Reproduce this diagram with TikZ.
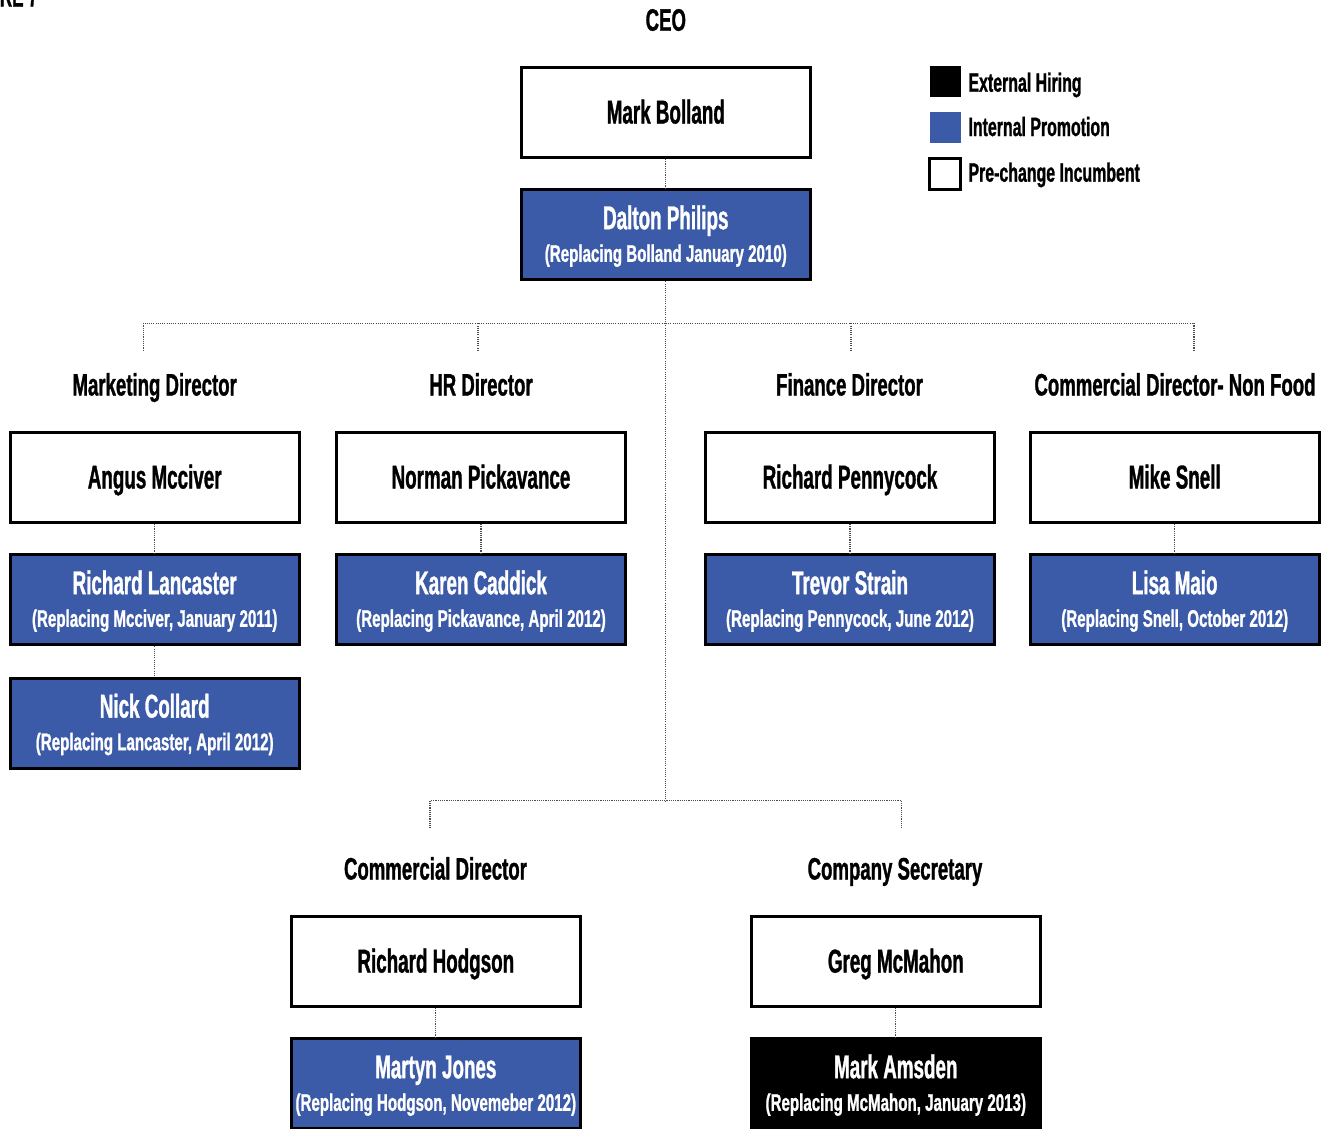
\documentclass[tikz,border=0pt]{standalone}
\usepackage{fontspec}
\newfontfamily\cf{Liberation Sans}[FakeStretch=0.57,FakeBold=1]
\newfontfamily\cft{Liberation Sans}[FakeStretch=0.60,FakeBold=1]
\newfontfamily\cfs{Liberation Sans}[FakeStretch=0.63,FakeBold=1]
\usetikzlibrary{calc}
\definecolor{promo}{HTML}{3B5BA8}
\tikzset{
  wbox/.style={draw=black, line width=3pt, fill=white, minimum width=289pt, minimum height=90pt, inner sep=0pt},
  bluebox/.style={wbox, fill=promo},
  blackbox/.style={wbox, fill=black},
  nm/.style={font=\cf\bfseries\fontsize{33}{36}\selectfont, inner sep=0pt},
  subt/.style={font=\cfs\bfseries\fontsize{24}{27}\selectfont, inner sep=0pt},
  ttl/.style={font=\cft\bfseries\fontsize{31}{34}\selectfont, inner sep=0pt, anchor=base},
  leg/.style={font=\cft\bfseries\fontsize{26.5}{29}\selectfont, inner sep=0pt, anchor=base west},
  conn/.style={draw=black!70, line width=1.1pt, dash pattern=on 1.1pt off 1.1pt},
  legsq/.style={minimum size=31pt, inner sep=0pt}
}
% white box: #1 name, #2 x, #3 y, #4 text
\newcommand\wnode[4]{%
  \node[wbox] (#1) at (#2,#3) {};
  \node[nm, anchor=base] (#1t) at ($(#1.north)+(0,57.5)$) {#4};}
% coloured box: #1 name, #2 style, #3 x, #4 y, #5 name text, #6 subtitle
\newcommand\cnode[6]{%
  \node[#2] (#1) at (#3,#4) {};
  \node[nm, anchor=base, text=white] (#1t) at ($(#1.north)+(0,40.9)$) {#5};
  \node[subt, anchor=base, text=white] (#1s) at ($(#1.north)+(0,73.5)$) {#6};}
\begin{document}
\begin{tikzpicture}[x=1pt, y=-1pt]
\useasboundingbox (0,0) rectangle (1324,1128);
\clip (0,0) rectangle (1324,1128);
\fill[white] (0,0) rectangle (1324,1128);

% cropped figure caption fragment
\node[font=\cf\bfseries\fontsize{30}{32}\selectfont, inner sep=0pt, anchor=base east] (fig) at (38,6.5) {FIGURE 7};

% CEO
\node[ttl] (ceo) at (665.8,30.7) {CEO};
\wnode{bolland}{665.8}{112.5}{Mark Bolland}
\cnode{philips}{bluebox}{665.8}{234.8}{Dalton Philips}{(Replacing Bolland January 2010)}

% legend
\node[legsq, fill=black] (lg1) at (945,81.7) {};
\node[leg] (lg1t) at (968.3,91.7) {External Hiring};
\node[legsq, fill=promo] (lg2) at (945,127.7) {};
\node[leg] (lg2t) at (968.3,136) {Internal Promotion};
\node[legsq, draw=black, line width=2.5pt, minimum size=31pt] (lg3) at (945.2,174) {};
\node[leg] (lg3t) at (968.3,181.7) {Pre-change Incumbent};

% directors titles
\node[ttl] (tmkt) at (154.7,395.5) {Marketing Director};
\node[ttl] (thr) at (481,395.5) {HR Director};
\node[ttl] (tfin) at (849.5,395.5) {Finance Director};
\node[ttl] (tcnf) at (1175,395.5) {Commercial Director- Non Food};

% row 1
\wnode{mcciver}{154.7}{477.5}{Angus Mcciver}
\wnode{pickavance}{481}{477.5}{Norman Pickavance}
\wnode{pennycock}{850}{477.5}{Richard Pennycock}
\wnode{snell}{1174.7}{477.5}{Mike Snell}

\cnode{lancaster}{bluebox}{154.7}{599.8}{Richard Lancaster}{(Replacing Mcciver, January 2011)}
\cnode{caddick}{bluebox}{481}{599.8}{Karen Caddick}{(Replacing Pickavance, April 2012)}
\cnode{strain}{bluebox}{850}{599.8}{Trevor Strain}{(Replacing Pennycock, June 2012)}
\cnode{maio}{bluebox}{1174.7}{599.8}{Lisa Maio}{(Replacing Snell, October 2012)}

\cnode{collard}{bluebox}{154.7}{723.2}{Nick Collard}{(Replacing Lancaster, April 2012)}

% bottom titles
\node[ttl] (tcom) at (435.5,879.5) {Commercial Director};
\node[ttl] (tsec) at (895,879.5) {Company Secretary};

\wnode{hodgson}{435.8}{961.5}{Richard Hodgson}
\wnode{mcmahon}{895.8}{961.5}{Greg McMahon}
\cnode{jones}{bluebox}{435.8}{1083.8}{Martyn Jones}{(Replacing Hodgson, Novemeber 2012)}
\cnode{amsden}{blackbox}{895.8}{1083.8}{Mark Amsden}{(Replacing McMahon, January 2013)}

% connector coordinates
\coordinate (hubA) at (665.8,323.3);
\coordinate (hubB) at (665.8,800.7);
\coordinate (busAl) at (143.3,323.3);
\coordinate (busAr) at (1194,323.3);
\coordinate (dropA1) at (143.3,350.7);
\coordinate (busA2) at (478,323.3);
\coordinate (dropA2) at (478,350.7);
\coordinate (busA3) at (851,323.3);
\coordinate (dropA3) at (851,350.7);
\coordinate (dropA4) at (1194,350.7);
\coordinate (busBl) at (430,800.7);
\coordinate (busBr) at (901.7,800.7);
\coordinate (dropB1) at (430,828.3);
\coordinate (dropB2) at (901.7,828.3);

% connectors
\draw[conn] (bolland.south) -- (philips.north);
\draw[conn] (philips.south) -- (hubA) -- (hubB);
\draw[conn] (dropA1) -- (busAl) -- (busAr) -- (dropA4);
\draw[conn] (busA2) -- (dropA2);
\draw[conn] (busA3) -- (dropA3);
\draw[conn] (dropB1) -- (busBl) -- (busBr) -- (dropB2);

\draw[conn] (mcciver.south) -- (lancaster.north);
\draw[conn] (lancaster.south) -- (collard.north);
\draw[conn] (pickavance.south) -- (caddick.north);
\draw[conn] (pennycock.south) -- (strain.north);
\draw[conn] (snell.south) -- (maio.north);
\draw[conn] (hodgson.south) -- (jones.north);
\draw[conn] (mcmahon.south) -- (amsden.north);
\end{tikzpicture}
\end{document}
